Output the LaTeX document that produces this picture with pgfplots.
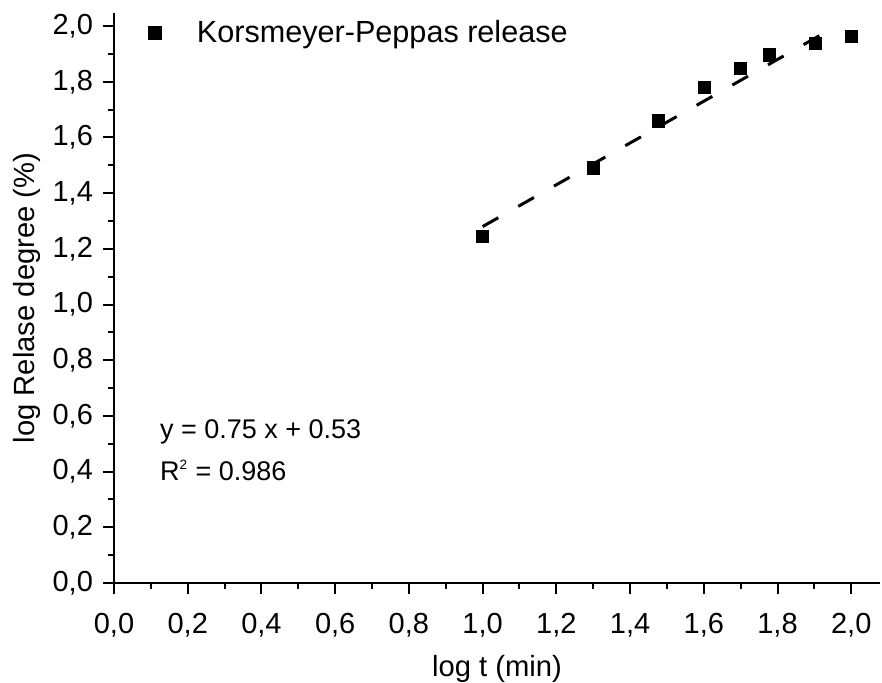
\documentclass[border=0pt]{standalone}
\usepackage{pgfplots}
\pgfplotsset{compat=1.18}
\usepackage{fontspec}
\setmainfont{Liberation Sans}
\pgfplotsset{mylegend/.style={legend image code/.code={\path[draw=none,fill=none] (-2pt,0pt) -- (19pt,0pt); \draw[##1] plot coordinates {(0pt,0pt)};}}}
\begin{document}
\begin{tikzpicture}
\useasboundingbox (-57pt,-50pt) rectangle (384pt,291.5pt);
\begin{axis}[
  at={(0,0)}, anchor=south west,
  width=383pt, height=285pt, scale only axis,
  xmin=0, xmax=2.078, ymin=0, ymax=2.047,
  axis x line*=bottom, axis y line*=left,
  axis line style={line width=1pt},
  xtick={0,0.2,...,2.01}, ytick={0,0.2,...,2.01},
  minor x tick num=1, minor y tick num=1,
  tick align=outside,
  major tick length=5.5pt, minor tick length=3pt,
  every tick/.style={line width=1pt, black},
  /pgf/number format/.cd, use comma, fixed, fixed zerofill, precision=1, assume math mode=true,
  /pgfplots/.cd,
  ticklabel style={font=\fontsize{14.5}{16}\selectfont},
  xticklabel style={yshift=-6pt},
  yticklabel style={xshift=-1.5pt},
  xlabel={log t (min)}, ylabel={log Relase degree (\%)},
  label style={font=\fontsize{14.6}{16}\selectfont},
  xlabel style={yshift=-2.5pt},
  ylabel style={yshift=-1pt},
  legend style={draw=none, fill=none, at={(rel axis cs:0.037,0.965)}, anchor=west,
    font=\fontsize{15.3}{17}\selectfont},
  clip=false,
]
\addplot[only marks, mark=square*, mark size=3.1pt, black, mylegend]
  coordinates {
  (1.000,1.245) (1.301,1.490) (1.477,1.660) (1.602,1.779)
  (1.699,1.847) (1.778,1.896) (1.903,1.937) (2.000,1.964)
};
\addlegendentry{Korsmeyer-Peppas release}
\addplot[black, line width=1.5pt, dash pattern=on 9pt off 11.5pt, forget plot]
  coordinates {(1.0,1.28) (1.937,1.983)};
\node[anchor=west, font=\fontsize{13.5}{15}\selectfont, inner sep=0pt] at (axis cs:0.124,0.542) {y = 0.75 x + 0.53};
\node[anchor=west, font=\fontsize{13.5}{15}\selectfont, inner sep=0pt] at (axis cs:0.124,0.405) {R$^{\scriptscriptstyle\mathrm{2}}$ = 0.986};
\end{axis}
\end{tikzpicture}
\end{document}
